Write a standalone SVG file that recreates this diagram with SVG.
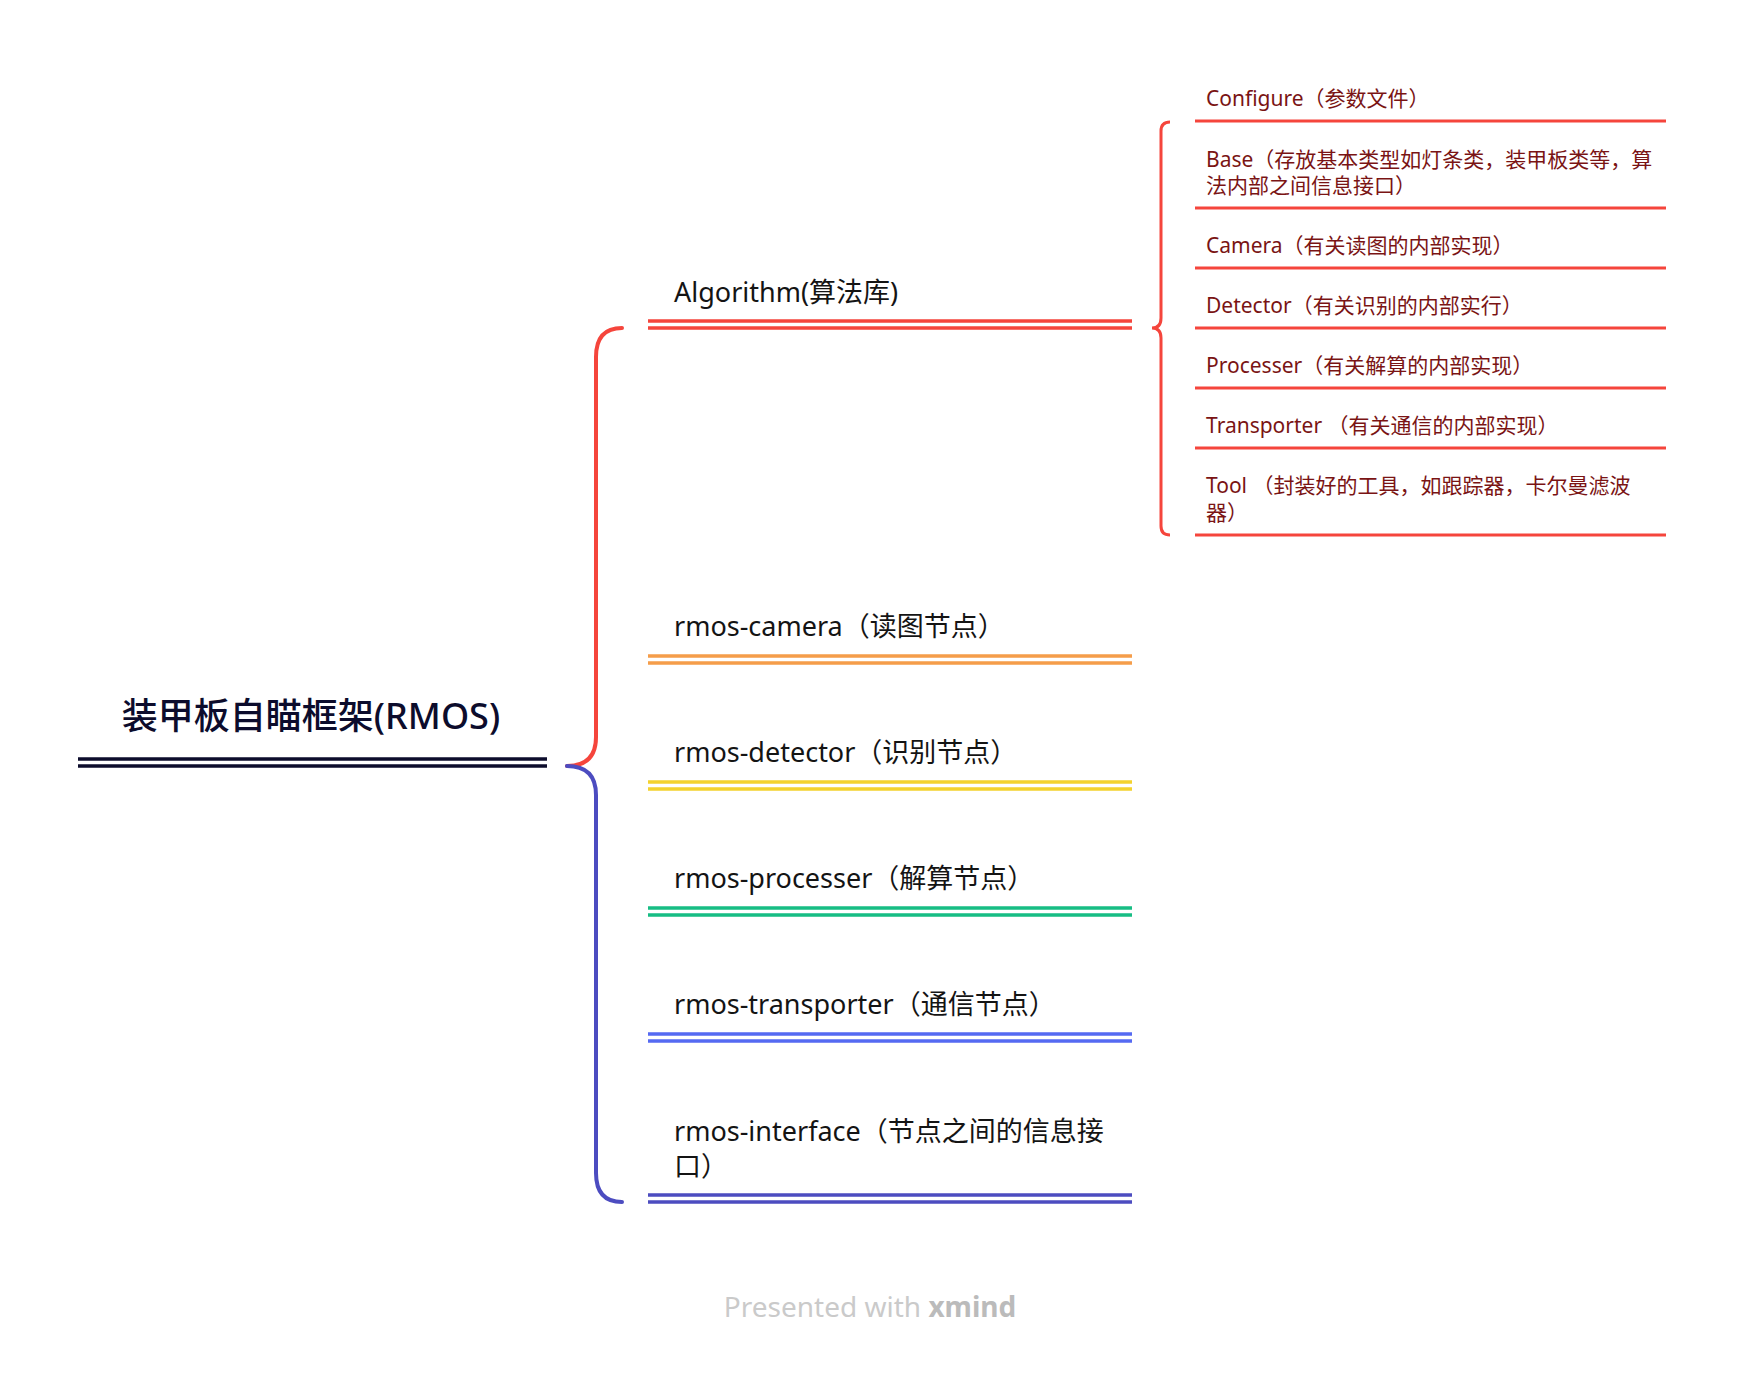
<svg xmlns="http://www.w3.org/2000/svg" width="1740" height="1378" viewBox="0 0 1740 1378">
<style>
.f{font-family:"Noto Sans","Noto Sans CJK SC",sans-serif}
.root{font-size:36px;font-weight:500;fill:#0c0c2c;text-anchor:middle}
.main{font-size:27px;fill:#141414}
.sub{font-size:21px;fill:#7a1414}
.ln{fill:none;stroke-width:3.5}
.sl{fill:none;stroke:#f5453c;stroke-width:3}
.con{fill:none;stroke-width:4;stroke-linecap:round}
.foot{font-size:28px;fill:#cacaca;text-anchor:middle}
</style>
<rect width="1740" height="1378" fill="#ffffff"/>
<g id="connectors">
<path class="con" stroke="#f5453c" d="M567,766 Q596,766 596,737 L596,357 Q596,328 622,328"/>
<path class="con" stroke="#4c4cc0" d="M567,766 Q596,766 596,795 L596,1173 Q596,1202 622,1202"/>
<path fill="none" stroke="#f5453c" stroke-width="3" d="M1170,122 Q1161,122 1161,131 L1161,318 Q1161,328 1152,328 Q1161,328 1161,338 L1161,526 Q1161,535 1170,535"/>
</g>
<g id="root">
<text class="f root" x="311" y="729">装甲板自瞄框架(RMOS)</text>
<path class="ln" stroke="#0c0c2c" stroke-width="4" d="M78,759 H547 M78,766 H547"/>
</g>
<g id="algorithm">
<text class="f main" x="674" y="302">Algorithm(算法库)</text>
<path class="ln" stroke="#f5453c" d="M648,321 H1132 M648,328 H1132"/>
</g>
<g id="camera">
<text class="f main" x="674" y="636">rmos-camera（读图节点）</text>
<path class="ln" stroke="#f59d4a" d="M648,656 H1132 M648,663 H1132"/>
</g>
<g id="detector">
<text class="f main" x="674" y="762">rmos-detector（识别节点）</text>
<path class="ln" stroke="#f4d22e" d="M648,782 H1132 M648,789 H1132"/>
</g>
<g id="processer">
<text class="f main" x="674" y="888">rmos-processer（解算节点）</text>
<path class="ln" stroke="#17bd84" d="M648,908 H1132 M648,915 H1132"/>
</g>
<g id="transporter">
<text class="f main" x="674" y="1014">rmos-transporter（通信节点）</text>
<path class="ln" stroke="#556af2" d="M648,1034 H1132 M648,1041 H1132"/>
</g>
<g id="interface">
<text class="f main" x="674" y="1141">rmos-interface（节点之间的信息接</text>
<text class="f main" x="674" y="1176">口）</text>
<path class="ln" stroke="#4c4cc0" d="M648,1195 H1132 M648,1202 H1132"/>
</g>
<g id="configure">
<text class="f sub" x="1206" y="106">Configure（参数文件）</text>
<path class="sl" d="M1195,121 H1666"/>
</g>
<g id="base">
<text class="f sub" x="1206" y="167">Base（存放基本类型如灯条类，装甲板类等，算</text>
<text class="f sub" x="1206" y="193">法内部之间信息接口）</text>
<path class="sl" d="M1195,208 H1666"/>
</g>
<g id="camera-sub">
<text class="f sub" x="1206" y="253">Camera（有关读图的内部实现）</text>
<path class="sl" d="M1195,268 H1666"/>
</g>
<g id="detector-sub">
<text class="f sub" x="1206" y="313">Detector（有关识别的内部实行）</text>
<path class="sl" d="M1195,328 H1666"/>
</g>
<g id="processer-sub">
<text class="f sub" x="1206" y="373">Processer（有关解算的内部实现）</text>
<path class="sl" d="M1195,388 H1666"/>
</g>
<g id="transporter-sub">
<text class="f sub" x="1206" y="433">Transporter （有关通信的内部实现）</text>
<path class="sl" d="M1195,448 H1666"/>
</g>
<g id="tool">
<text class="f sub" x="1206" y="493">Tool （封装好的工具，如跟踪器，卡尔曼滤波</text>
<text class="f sub" x="1206" y="520">器）</text>
<path class="sl" d="M1195,535 H1666"/>
</g>
<text class="f foot" x="870" y="1317">Presented with <tspan font-weight="700" fill="#bbbbbb">xmind</tspan></text>
</svg>
